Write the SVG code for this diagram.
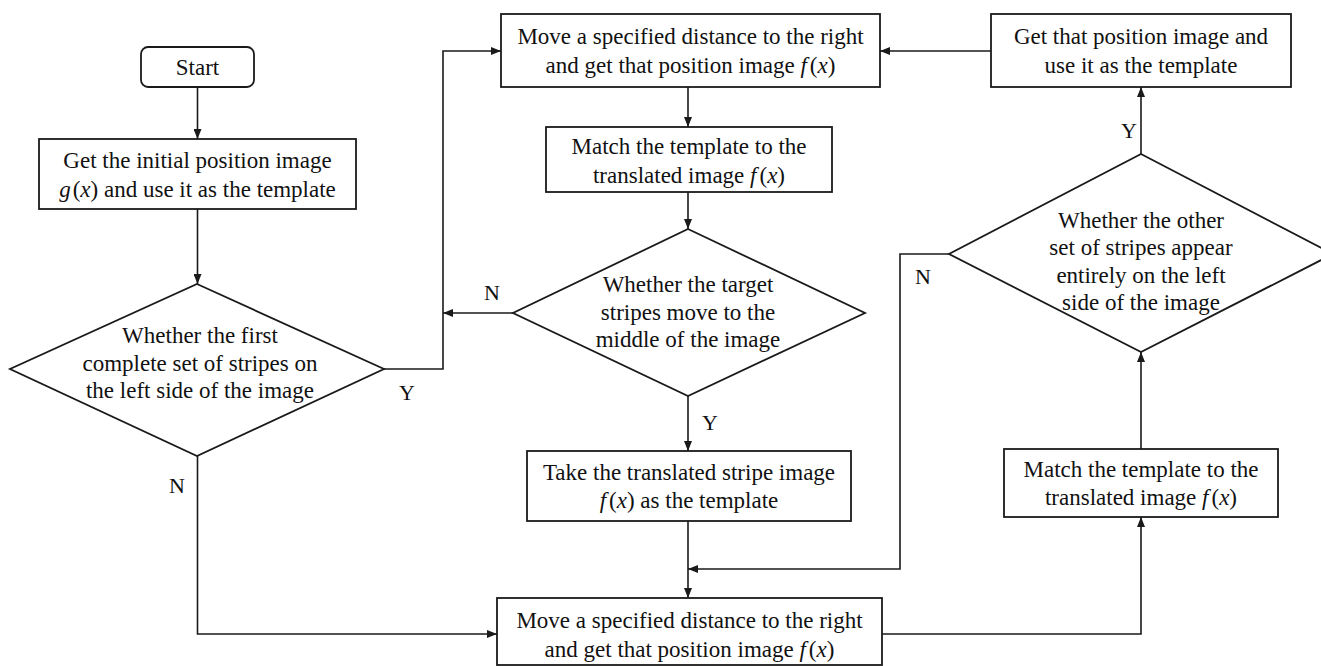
<svg xmlns="http://www.w3.org/2000/svg" width="1321" height="666" viewBox="0 0 1321 666">
<defs>
<style>
.box{fill:#fff;stroke:#1a1a1a;stroke-width:1.8}
.ln{fill:none;stroke:#1a1a1a;stroke-width:1.6}
text{font-size:23px;fill:#111;text-anchor:middle}
.lb{font-size:22px}
.m{font-style:italic}
</style>
<marker id="ah" markerUnits="userSpaceOnUse" markerWidth="10" markerHeight="8" viewBox="0 0 10 8" refX="10" refY="4" orient="auto">
<path d="M0,0 L10,4 L0,8 z" fill="#1a1a1a"/>
</marker>
</defs>
<rect width="1321" height="666" fill="#fff"/>
<g font-family="'Liberation Serif', 'Times New Roman', 'DejaVu Serif', serif">
<g id="connectors">
<path class="ln" d="M197.5,87 V139" marker-end="url(#ah)"/>
<path class="ln" d="M197.5,209 V284" marker-end="url(#ah)"/>
<path class="ln" d="M384,369 H443 V51 H501" marker-end="url(#ah)"/>
<path class="ln" d="M688,87 V127" marker-end="url(#ah)"/>
<path class="ln" d="M688,192 V229" marker-end="url(#ah)"/>
<path class="ln" d="M513,313 H443" marker-end="url(#ah)"/>
<path class="ln" d="M688,396 V451" marker-end="url(#ah)"/>
<path class="ln" d="M688,521 V598" marker-end="url(#ah)"/>
<path class="ln" d="M197.5,456 V634 H497" marker-end="url(#ah)"/>
<path class="ln" d="M882,634 H1141 V517" marker-end="url(#ah)"/>
<path class="ln" d="M1141,449 V352" marker-end="url(#ah)"/>
<path class="ln" d="M1141,154 V87" marker-end="url(#ah)"/>
<path class="ln" d="M991,51 H880" marker-end="url(#ah)"/>
<path class="ln" d="M949,254 H900 V569 H688" marker-end="url(#ah)"/>
<text class="lb" x="407" y="400">Y</text>
<text class="lb" x="492" y="300">N</text>
<text class="lb" x="177" y="493">N</text>
<text class="lb" x="710" y="430">Y</text>
<text class="lb" x="1129" y="138">Y</text>
<text class="lb" x="923" y="284">N</text>
</g>
<g id="start">
<rect class="box" x="141" y="47" width="113" height="40" rx="7"/>
<text x="197.5" y="75">Start</text>
</g>
<g id="initial">
<rect class="box" x="39" y="139" width="317" height="70"/>
<text x="197.5" y="168">Get the initial position image</text>
<text x="197.5" y="197"><tspan class="m">g</tspan><tspan dx="2">(</tspan><tspan class="m">x</tspan>) and use it as the template</text>
</g>
<g id="decision-first">
<polygon class="box" points="197,284 384,369 197,456 10,369"/>
<text x="200" y="343">Whether the first</text>
<text x="200" y="371">complete set of stripes on</text>
<text x="200" y="398">the left side of the image</text>
</g>
<g id="move-top">
<rect class="box" x="501" y="14" width="379" height="73"/>
<text x="690.5" y="44">Move a specified distance to the right</text>
<text x="690.5" y="73">and get that position image <tspan class="m">f</tspan><tspan dx="3">(</tspan><tspan class="m">x</tspan>)</text>
</g>
<g id="match-top">
<rect class="box" x="546" y="127" width="286" height="65"/>
<text x="689" y="154">Match the template to the</text>
<text x="689" y="183">translated image <tspan class="m">f</tspan><tspan dx="3">(</tspan><tspan class="m">x</tspan>)</text>
</g>
<g id="decision-middle">
<polygon class="box" points="688,229 865,313 688,396 513,313"/>
<text x="688" y="292">Whether the target</text>
<text x="688" y="320">stripes move to the</text>
<text x="688" y="347">middle of the image</text>
</g>
<g id="take-template">
<rect class="box" x="527" y="451" width="324" height="70"/>
<text x="689" y="480">Take the translated stripe image</text>
<text x="689" y="508"><tspan class="m">f</tspan><tspan dx="3">(</tspan><tspan class="m">x</tspan>) as the template</text>
</g>
<g id="move-bottom">
<rect class="box" x="497" y="598" width="385" height="67"/>
<text x="689.5" y="628">Move a specified distance to the right</text>
<text x="689.5" y="657">and get that position image <tspan class="m">f</tspan><tspan dx="3">(</tspan><tspan class="m">x</tspan>)</text>
</g>
<g id="match-right">
<rect class="box" x="1004" y="449" width="274" height="68"/>
<text x="1141" y="477">Match the template to the</text>
<text x="1141" y="505">translated image <tspan class="m">f</tspan><tspan dx="3">(</tspan><tspan class="m">x</tspan>)</text>
</g>
<g id="decision-right">
<polygon class="box" points="1141,154 1333,254 1141,352 949,254"/>
<text x="1141" y="228">Whether the other</text>
<text x="1141" y="255">set of stripes appear</text>
<text x="1141" y="283">entirely on the left</text>
<text x="1141" y="310">side of the image</text>
</g>
<g id="get-template">
<rect class="box" x="991" y="14" width="300" height="73"/>
<text x="1141" y="44">Get that position image and</text>
<text x="1141" y="73">use it as the template</text>
</g>
</g>
</svg>
